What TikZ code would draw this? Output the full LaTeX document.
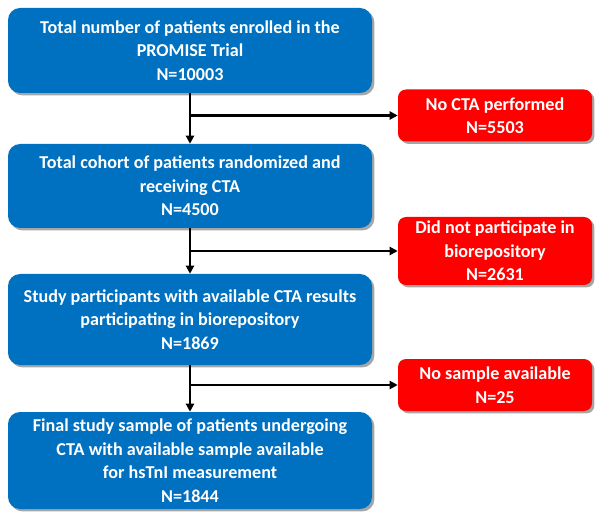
\documentclass[tikz,border=0pt]{standalone}
\usepackage{fontspec}
\setmainfont{Carlito}
\usepackage{tikz}
\usetikzlibrary{
    positioning,                      % right=of, below=of, etc.
    arrows.meta,                      % puntas modernas (Stealth, Latex, etc.)
    shadows                           % sombras de los bloques
}
\definecolor{cohort_blue}{RGB}{0,112,192}
\definecolor{excluded_red}{RGB}{255,0,0}
\tikzset{
    block/.style={
        rectangle, rounded corners=9pt,
        minimum width=273pt,
        align=center, text=white, inner sep=3pt,
        font=\fontsize{13.6}{17.6}\selectfont\bfseries,
        drop shadow={shadow xshift=1.8pt, shadow yshift=-1.8pt,
                     fill=black, opacity=0.35}
    },
    cohort/.style={
        block, fill=cohort_blue
    },
    excluded/.style={
        block, fill=excluded_red, rounded corners=6pt,
        minimum width=145.5pt
    },
    arrow/.style={
        -{Triangle[length=6pt, width=6pt]}, line width=1.6pt
    }
}

\begin{document}
\begin{tikzpicture}[x=0.75pt, y=-0.75pt]

        \useasboundingbox (0,0) rectangle (604,524);

        % --- Cohorte principal ---
        \node[cohort, minimum height=63.75pt] (enrolled) at (190,50.5)
            {Total number of patients enrolled in the\\PROMISE Trial\\N=10003};
        \node[cohort, minimum height=63pt] (randomized) at (190,186)
            {Total cohort of patients randomized and\\receiving CTA\\N=4500};
        \node[cohort, minimum height=68.25pt] (biorepo) at (190,319.5)
            {Study participants with available CTA results\\participating in biorepository\\N=1869};
        \node[cohort, minimum height=72.75pt] (final) at (190,460.5)
            {Final study sample of patients undergoing\\CTA with available sample available\\for hsTnI measurement\\N=1844};

        % --- Exclusiones ---
        \node[excluded, minimum height=39pt] (nocta) at (495,115.5)
            {No CTA performed\\N=5503};
        \node[excluded, minimum height=51pt] (noconsent) at (495,251)
            {Did not participate in\\biorepository\\N=2631};
        \node[excluded, minimum height=39pt] (nosample) at (495,385)
            {No sample available\\N=25};

        % --- Flechas ---
        \foreach \src/\dst/\out in {enrolled/randomized/nocta,
                                    randomized/biorepo/noconsent,
                                    biorepo/final/nosample} {
            \draw[arrow] (\src.south) -- (\dst.north);
            \draw[arrow] (\src.south |- \out.west) -- (\out.west);
        }

    \end{tikzpicture}
\end{document}
